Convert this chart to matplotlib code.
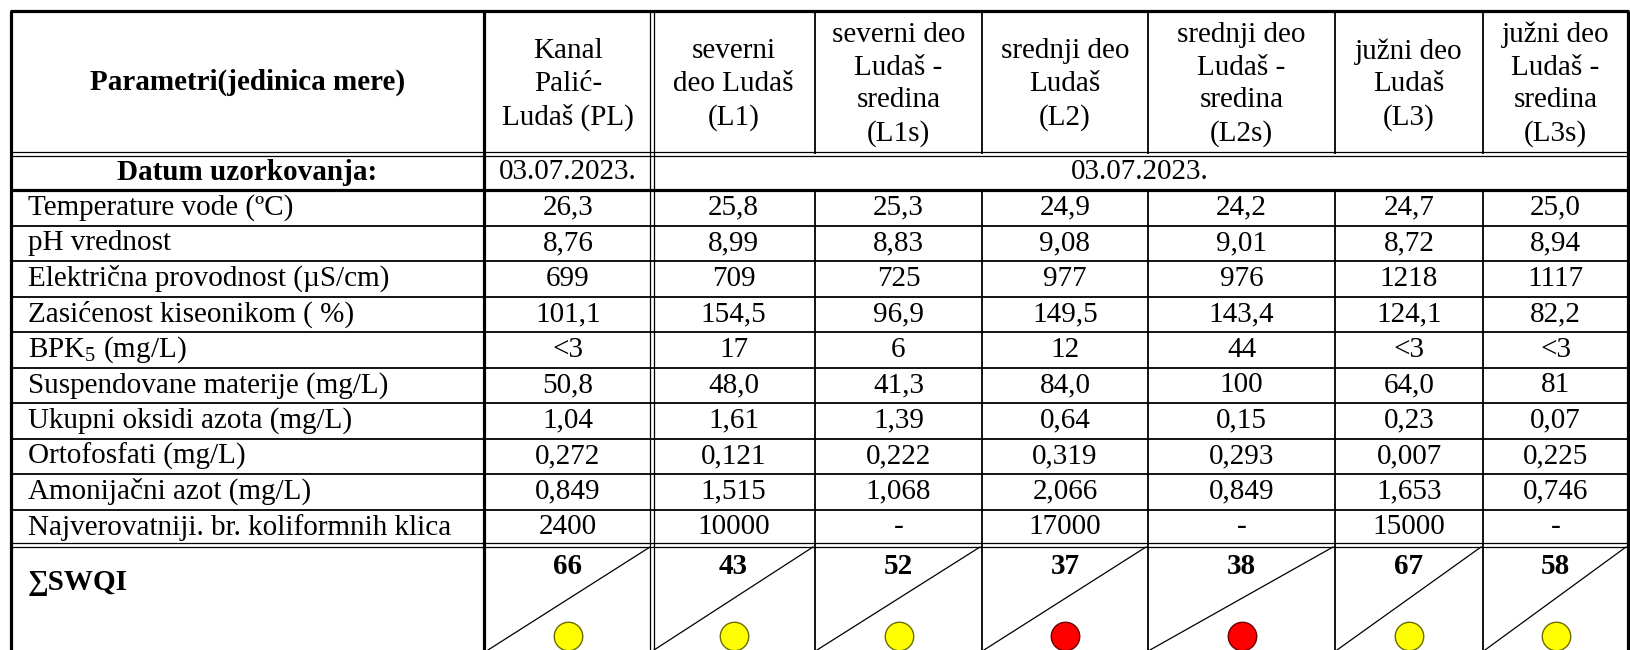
import matplotlib.pyplot as plt

plt.rcParams['font.family'] = ['Liberation Serif', 'DejaVu Serif']
plt.rcParams['mathtext.fontset'] = 'custom'
plt.rcParams['mathtext.rm'] = 'Liberation Serif'

# Podaci tabele
stanice = ['Kanal\nPalić-\nLudaš (PL)', 'severni\ndeo Ludaš\n(L1)',
           'severni deo\nLudaš -\nsredina\n(L1s)', 'srednji deo\nLudaš\n(L2)',
           'srednji deo\nLudaš -\nsredina\n(L2s)', 'južni deo\nLudaš\n(L3)',
           'južni deo\nLudaš -\nsredina\n(L3s)']
parametri = ['Temperature vode (ºC)', 'pH vrednost',
             'Električna provodnost (µS/cm)', 'Zasićenost kiseonikom ( %)',
             'BPK$_5$ (mg/L)', 'Suspendovane materije (mg/L)',
             'Ukupni oksidi azota (mg/L)', 'Ortofosfati (mg/L)',
             'Amonijačni azot (mg/L)', 'Najverovatniji. br. koliformnih klica']
vrednosti = [
    ['26,3', '25,8', '25,3', '24,9', '24,2', '24,7', '25,0'],
    ['8,76', '8,99', '8,83', '9,08', '9,01', '8,72', '8,94'],
    ['699', '709', '725', '977', '976', '1218', '1117'],
    ['101,1', '154,5', '96,9', '149,5', '143,4', '124,1', '82,2'],
    ['<3', '17', '6', '12', '44', '<3', '<3'],
    ['50,8', '48,0', '41,3', '84,0', '100', '64,0', '81'],
    ['1,04', '1,61', '1,39', '0,64', '0,15', '0,23', '0,07'],
    ['0,272', '0,121', '0,222', '0,319', '0,293', '0,007', '0,225'],
    ['0,849', '1,515', '1,068', '2,066', '0,849', '1,653', '0,746'],
    ['2400', '10000', '-', '17000', '-', '15000', '-'],
]
swqi = [66, 43, 52, 37, 38, 67, 58]
swqi_boja = ['#ffff00', '#ffff00', '#ffff00', '#ff0000', '#ff0000', '#ffff00', '#ffff00']
swqi_ivica = ['#6b6b00', '#6b6b00', '#6b6b00', '#6b0000', '#6b0000', '#6b6b00', '#6b6b00']
datum_pl = '03.07.2023.'
datum_ostalo = '03.07.2023.'

# Raspored (pikseli)
kol = [11, 484, 652, 815, 982, 1148, 1335, 1483, 1628]
y_top, y_hdr, y_dat, y_swqi, y_bot = 11, 154, 190, 545, 650
red_h = (y_swqi - y_dat) / len(parametri)
fs = 21

fig = plt.figure(figsize=(16.3, 6.5), dpi=100)
ax = fig.add_axes([0, 0, 1, 1])
ax.set_xlim(0, 1630)
ax.set_ylim(650, 0)
ax.axis('off')


def hline(y, x0=kol[0], x1=kol[-1], lw=1.2):
    ax.plot([x0, x1], [y, y], color='black', lw=lw, solid_capstyle='butt')


def vline(x, y0, y1, lw=1.2):
    ax.plot([x, x], [y0, y1], color='black', lw=lw, solid_capstyle='butt')


# Horizontalne linije
hline(y_top, kol[0] - 1, kol[-1] + 1, lw=2.3)
hline(y_hdr - 2, lw=0.9)
hline(y_hdr + 2, lw=0.9)
hline(y_dat, lw=2.3)
for k in range(1, len(parametri)):
    hline(y_dat + k * red_h, lw=1.3)
hline(y_swqi - 2, lw=0.9)
hline(y_swqi + 2, lw=0.9)

# Vertikalne linije
vline(kol[0], y_top, y_bot, lw=2.3)
vline(kol[-1], y_top, y_bot, lw=2.3)
vline(kol[1], y_top, y_bot, lw=2.3)
vline(kol[2] - 2, y_top, y_bot, lw=0.9)
vline(kol[2] + 2, y_top, y_bot, lw=0.9)
for x in kol[3:-1]:
    vline(x, y_top, y_hdr, lw=1.3)
    vline(x, y_dat, y_bot, lw=1.3)

# Zaglavlje
ax.text((kol[0] + kol[1]) / 2, (y_top + y_hdr) / 2, 'Parametri(jedinica mere)',
        ha='center', va='center', fontsize=fs, fontweight='bold')
for i, s in enumerate(stanice):
    xc = (kol[i + 1] + kol[i + 2]) / 2
    ax.text(xc, (y_top + y_hdr) / 2 + 2, s, ha='center', va='center',
            fontsize=fs, linespacing=1.33)

# Datum
yd = (y_hdr + y_dat) / 2
ax.text((kol[0] + kol[1]) / 2, yd, 'Datum uzorkovanja:', ha='center', va='center',
        fontsize=fs, fontweight='bold')
ax.text((kol[1] + kol[2]) / 2, yd, datum_pl, ha='center', va='center', fontsize=fs)
ax.text((kol[2] + kol[-1]) / 2, yd, datum_ostalo, ha='center', va='center', fontsize=fs)

# Redovi sa parametrima
for r, (p, vals) in enumerate(zip(parametri, vrednosti)):
    yc = y_dat + (r + 0.5) * red_h
    ax.text(kol[0] + 17, yc, p, ha='left', va='center', fontsize=fs)
    for i, v in enumerate(vals):
        ax.text((kol[i + 1] + kol[i + 2]) / 2, yc, v, ha='center', va='center', fontsize=fs)

# SWQI red
ax.text(kol[0] + 17, 582, '∑SWQI', ha='left', va='center', fontsize=fs, fontweight='bold')
for i, (s, c, e) in enumerate(zip(swqi, swqi_boja, swqi_ivica)):
    x0, x1 = kol[i + 1], kol[i + 2]
    if i == 0:
        x0 += 2
    ax.plot([x0 + 2, x1 - 2], [y_bot, y_swqi + 2], color='black', lw=0.9)
    xc = (kol[i + 1] + kol[i + 2]) / 2
    ax.text(xc, 566, str(s), ha='center', va='center', fontsize=fs, fontweight='bold')
    ax.scatter([xc], [636], s=420, color=c, edgecolors=e, linewidths=1.0, zorder=3)

fig.savefig('out.png', dpi=100)
